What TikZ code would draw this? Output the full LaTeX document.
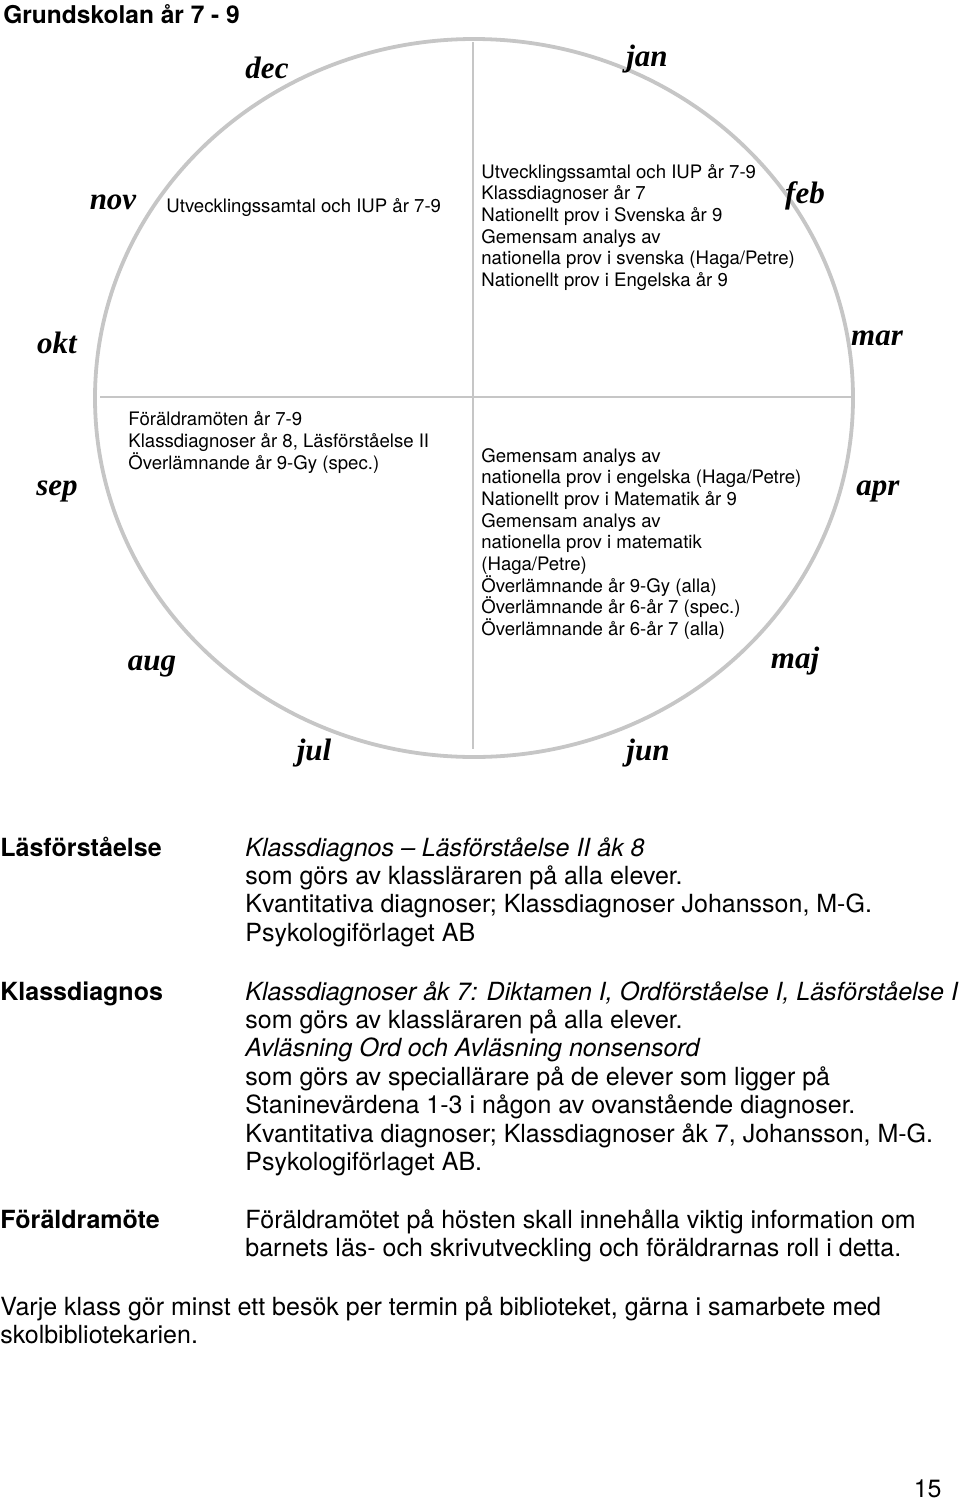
\documentclass[tikz,border=0pt]{standalone}
\usepackage{fontspec}
\setsansfont{TeX Gyre Heros}
\newfontfamily\monthfont{Liberation Serif}
\usetikzlibrary{positioning}
\definecolor{ringgray}{RGB}{198,198,198}
\tikzset{
  month/.style={font=\monthfont\fontsize{15.5}{18}\selectfont\bfseries\itshape, inner sep=0pt, anchor=base},
  event/.style={font=\sffamily\fontsize{9.3}{10.85}\selectfont, align=left, inner sep=0pt, anchor=base west},
  term/.style={font=\sffamily\bfseries\fontsize{12.5}{14.2}\selectfont, inner sep=0pt, anchor=base west},
  note/.style={font=\sffamily\fontsize{12.5}{14.2}\selectfont, align=left, inner sep=0pt, anchor=base west},
  ring/.style={draw=ringgray, line width=1.9pt},
  cross/.style={draw=ringgray, line width=1pt}
}

\begin{document}
\begin{tikzpicture}[x=0.5pt,y=-0.5pt]
  \useasboundingbox (0,0) rectangle (960,1500);

  %Title
  \node[font=\sffamily\bfseries\fontsize{12.25}{14}\selectfont, inner sep=0pt, anchor=base west] (title) at (3,23) {Grundskolan år 7 - 9};

  %Year wheel
  \coordinate (hub) at (474,398);
  \coordinate (wheelTop) at (473,42);
  \coordinate (wheelBottom) at (473,749);
  \coordinate (wheelLeft) at (100,397);
  \coordinate (wheelRight) at (852,397);
  \draw[ring] (hub) ellipse [x radius=379, y radius=359];
  \draw[cross] (wheelTop) -- (wheelBottom);
  \draw[cross] (wheelLeft) -- (wheelRight);

  %Months
  \node[month] (jan) at (647,66) {jan};
  \node[month] (feb) at (805,203) {feb};
  \node[month] (mar) at (877,345) {mar};
  \node[month] (apr) at (878,495) {apr};
  \node[month] (maj) at (795,668) {maj};
  \node[month] (jun) at (648,760) {jun};
  \node[month] (jul) at (314,760) {jul};
  \node[month] (aug) at (152,670) {aug};
  \node[month] (sep) at (57,495) {sep};
  \node[month] (okt) at (57,353) {okt};
  \node[month] (nov) at (113,209) {nov};
  \node[month] (dec) at (267,78) {dec};

  %Events (anchored at the baseline of the last line)
  \node[event] (novEvents) at (166,212) {Utvecklingssamtal och IUP år 7-9};
  \node[event] (febEvents) at (481,286.5) {Utvecklingssamtal och IUP år 7-9\\
    Klassdiagnoser år 7\\
    Nationellt prov i Svenska år 9\\
    Gemensam analys av\\
    nationella prov i svenska (Haga/Petre)\\
    Nationellt prov i Engelska år 9};
  \node[event] (sepEvents) at (128,469) {Föräldramöten år 7-9\\
    Klassdiagnoser år 8, Läsförståelse II\\
    Överlämnande år 9-Gy (spec.)};
  \node[event] (aprEvents) at (481,635.6) {Gemensam analys av\\
    nationella prov i engelska (Haga/Petre)\\
    Nationellt prov i Matematik år 9\\
    Gemensam analys av\\
    nationella prov i matematik\\
    (Haga/Petre)\\
    Överlämnande år 9-Gy (alla)\\
    Överlämnande år 6-år 7 (spec.)\\
    Överlämnande år 6-år 7 (alla)};

  %Notes
  \node[term] (lasTerm) at (0,856) {Läsförståelse};
  \node[note] (lasNote) at (245,941.2) {\itshape Klassdiagnos -- Läsförståelse II åk 8\\
    som görs av klassläraren på alla elever.\\
    Kvantitativa diagnoser; Klassdiagnoser Johansson, M-G.\\
    Psykologiförlaget AB};
  \node[term] (klassTerm) at (0,1000) {Klassdiagnos};
  \node[note] (klassNote) at (245,1170.4) {\itshape Klassdiagnoser åk 7: Diktamen I, Ordförståelse I, Läsförståelse I\\
    som görs av klassläraren på alla elever.\\
    \itshape Avläsning Ord och Avläsning nonsensord\\
    som görs av speciallärare på de elever som ligger på\\
    Staninevärdena 1-3 i någon av ovanstående diagnoser.\\
    Kvantitativa diagnoser; Klassdiagnoser åk 7, Johansson, M-G.\\
    Psykologiförlaget AB.};
  \node[term] (motesTerm) at (0,1228) {Föräldramöte};
  \node[note] (motesNote) at (245,1256.4) {Föräldramötet på hösten skall innehålla viktig information om\\
    barnets läs- och skrivutveckling och föräldrarnas roll i detta.};
  \node[note] (library) at (0,1343.4) {Varje klass gör minst ett besök per termin på biblioteket, gärna i samarbete med\\
    skolbibliotekarien.};
  \node[note, anchor=base east] (pageNo) at (942,1497) {15};
\end{tikzpicture}
\end{document}
